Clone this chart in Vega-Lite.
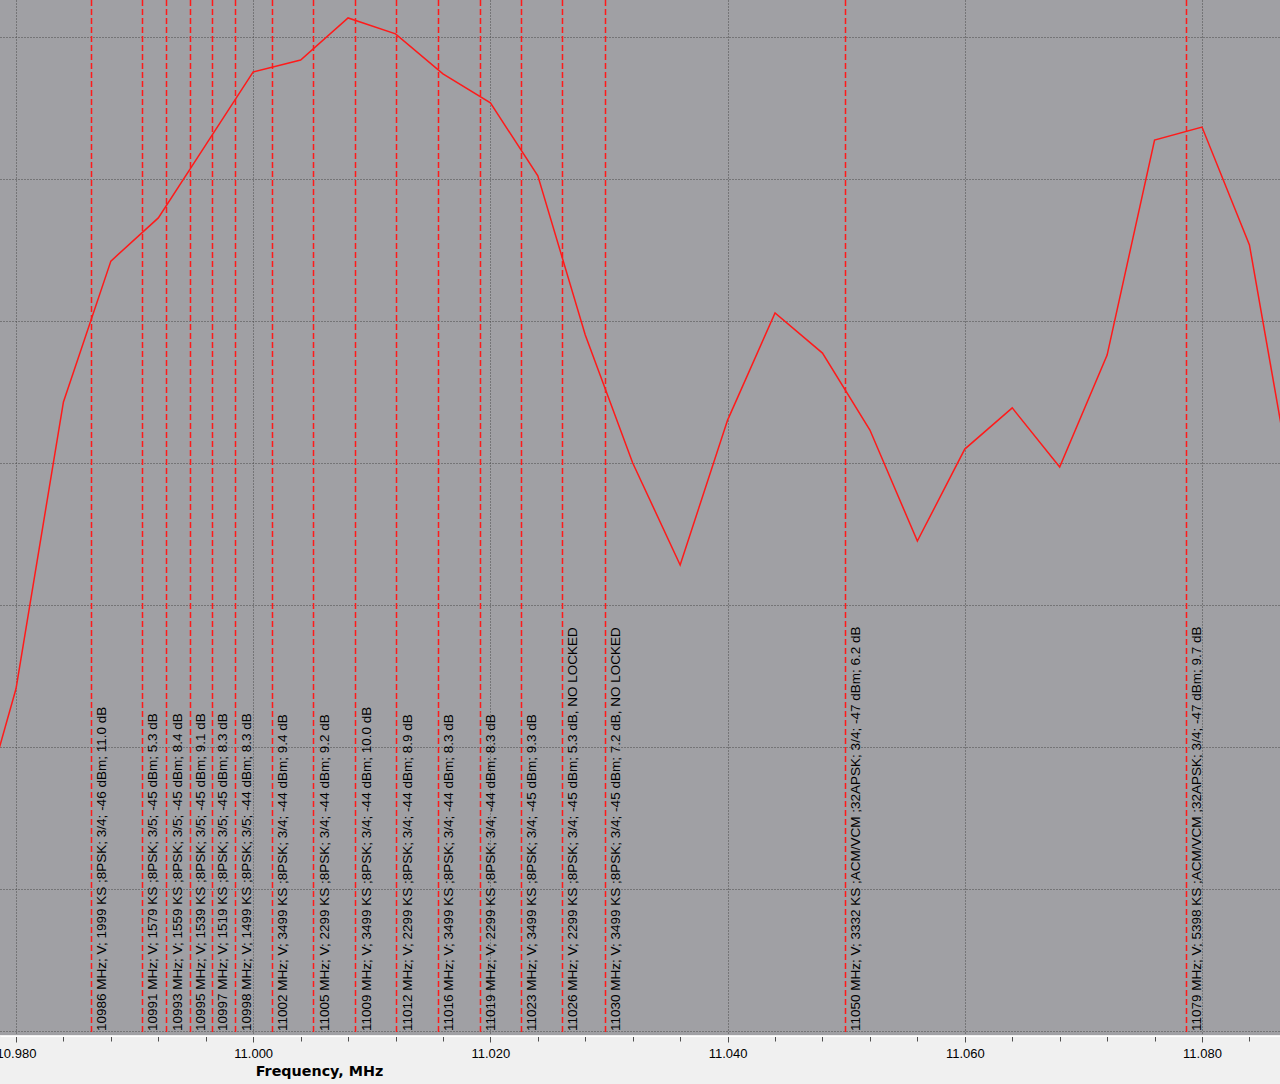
{
  "$schema": "https://vega.github.io/schema/vega-lite/v6.json",
  "width": 1280,
  "height": 1035,
  "autosize": {"type": "none"},
  "padding": {"left": 0, "top": 0, "right": 0, "bottom": 49},
  "background": "#f0f0f0",
  "config": {"view": {"fill": "#a0a0a4", "stroke": null}},
  "datasets": {
    "spectrum": [
      {"freq": 10.976, "level": -68.87},
      {"freq": 10.980, "level": -62.95},
      {"freq": 10.984, "level": -52.85},
      {"freq": 10.988, "level": -47.89},
      {"freq": 10.992, "level": -46.37},
      {"freq": 10.996, "level": -43.80},
      {"freq": 11.000, "level": -41.23},
      {"freq": 11.004, "level": -40.81},
      {"freq": 11.008, "level": -39.33},
      {"freq": 11.012, "level": -39.89},
      {"freq": 11.016, "level": -41.30},
      {"freq": 11.020, "level": -42.32},
      {"freq": 11.024, "level": -44.89},
      {"freq": 11.028, "level": -50.49},
      {"freq": 11.032, "level": -55.00},
      {"freq": 11.036, "level": -58.59},
      {"freq": 11.040, "level": -53.49},
      {"freq": 11.044, "level": -49.72},
      {"freq": 11.048, "level": -51.13},
      {"freq": 11.052, "level": -53.84},
      {"freq": 11.056, "level": -57.75},
      {"freq": 11.060, "level": -54.51},
      {"freq": 11.064, "level": -53.06},
      {"freq": 11.068, "level": -55.14},
      {"freq": 11.072, "level": -51.20},
      {"freq": 11.076, "level": -43.63},
      {"freq": 11.080, "level": -43.17},
      {"freq": 11.084, "level": -47.32},
      {"freq": 11.088, "level": -56.83}
    ],
    "carriers": [
      {"freq": 10.986366, "label": "10986 MHz; V; 1999 KS ;8PSK; 3/4; -46 dBm; 11.0 dB"},
      {"freq": 10.990666, "label": "10991 MHz; V; 1579 KS ;8PSK; 3/5; -45 dBm; 5.3 dB"},
      {"freq": 10.992690, "label": "10993 MHz; V; 1559 KS ;8PSK; 3/5; -45 dBm; 8.4 dB"},
      {"freq": 10.994713, "label": "10995 MHz; V; 1539 KS ;8PSK; 3/5; -45 dBm; 9.1 dB"},
      {"freq": 10.996568, "label": "10997 MHz; V; 1519 KS ;8PSK; 3/5; -45 dBm; 8.3 dB"},
      {"freq": 10.998508, "label": "10998 MHz; V; 1499 KS ;8PSK; 3/5; -44 dBm; 8.3 dB"},
      {"freq": 11.001627, "label": "11002 MHz; V; 3499 KS ;8PSK; 3/4; -44 dBm; 9.4 dB"},
      {"freq": 11.005085, "label": "11005 MHz; V; 2299 KS ;8PSK; 3/4; -44 dBm; 9.2 dB"},
      {"freq": 11.008626, "label": "11009 MHz; V; 3499 KS ;8PSK; 3/4; -44 dBm; 10.0 dB"},
      {"freq": 11.012083, "label": "11012 MHz; V; 2299 KS ;8PSK; 3/4; -44 dBm; 8.9 dB"},
      {"freq": 11.015624, "label": "11016 MHz; V; 3499 KS ;8PSK; 3/4; -44 dBm; 8.3 dB"},
      {"freq": 11.019165, "label": "11019 MHz; V; 2299 KS ;8PSK; 3/4; -44 dBm; 8.3 dB"},
      {"freq": 11.022622, "label": "11023 MHz; V; 3499 KS ;8PSK; 3/4; -45 dBm; 9.3 dB"},
      {"freq": 11.026079, "label": "11026 MHz; V; 2299 KS ;8PSK; 3/4; -45 dBm; 5.3 dB, NO LOCKED"},
      {"freq": 11.029705, "label": "11030 MHz; V; 3499 KS ;8PSK; 3/4; -45 dBm; 7.2 dB, NO LOCKED"},
      {"freq": 11.049941, "label": "11050 MHz; V; 3332 KS ;ACM/VCM ;32APSK; 3/4; -47 dBm; 6.2 dB"},
      {"freq": 11.078693, "label": "11079 MHz; V; 5398 KS ;ACM/VCM ;32APSK; 3/4; -47 dBm; 9.7 dB"}
    ]
  },
  "layer": [
    {
      "data": {"name": "spectrum"},
      "mark": {"type": "line", "color": "#ff1a1a", "strokeWidth": 1.5, "clip": true},
      "encoding": {
        "x": {
          "field": "freq",
          "type": "quantitative",
          "scale": {"domain": [10.978651, 11.086577], "nice": false, "zero": false},
          "title": "Frequency, MHz",
          "axis": {
            "values": [10.98, 10.982, 10.984, 10.986, 10.988, 10.99, 10.992, 10.994, 10.996, 10.998, 11, 11.002, 11.004, 11.006, 11.008, 11.01, 11.012, 11.014, 11.016, 11.018, 11.02, 11.022, 11.024, 11.026, 11.028, 11.03, 11.032, 11.034, 11.036, 11.038, 11.04, 11.042, 11.044, 11.046, 11.048, 11.05, 11.052, 11.054, 11.056, 11.058, 11.06, 11.062, 11.064, 11.066, 11.068, 11.07, 11.072, 11.074, 11.076, 11.078, 11.08, 11.082, 11.084, 11.086],
            "labelExpr": "abs(datum.value*50 - round(datum.value*50)) < 0.001 ? format(datum.value, '.3f') : ''",
            "labelFlush": false,
            "labelOverlap": false,
            "labelBound": false,
            "labelFont": "Liberation Sans",
            "labelFontSize": 13,
            "labelColor": "#000000",
            "labelPadding": 5.5,
            "tickColor": "#505050",
            "tickSize": {"condition": {"test": "abs(datum.value*50 - round(datum.value*50)) < 0.001", "value": 6}, "value": 5},
            "domainColor": "#ffffff",
            "domainWidth": 1,
            "offset": 1,
            "grid": true,
            "gridColor": "#4a4a4a",
            "gridDash": [1, 2],
            "gridOpacity": {"condition": {"test": "abs(datum.value*50 - round(datum.value*50)) < 0.001", "value": 1}, "value": 0},
            "titleFont": "DejaVu Sans",
            "titleFontWeight": "bold",
            "titleFontSize": 14.3,
            "titleColor": "#000000",
            "titleX": 319,
            "titleY": 39.5,
            "titleAlign": "center",
            "titleBaseline": "alphabetic"
          }
        },
        "y": {
          "field": "level",
          "type": "quantitative",
          "scale": {"domain": [-75.1408, -38.6972], "nice": false, "zero": false},
          "axis": {
            "values": [-40, -45, -50, -55, -60, -65, -70, -75],
            "labels": false,
            "ticks": false,
            "domain": false,
            "title": null,
            "grid": true,
            "gridColor": "#4a4a4a",
            "gridDash": [1, 2]
          }
        }
      }
    },
    {
      "data": {"name": "carriers"},
      "mark": {"type": "rule", "color": "#ff1a1a", "strokeDash": [6, 3], "strokeWidth": 1.5},
      "encoding": {"x": {"field": "freq", "type": "quantitative"}}
    },
    {
      "data": {"name": "carriers"},
      "mark": {"type": "text", "angle": 270, "align": "left", "baseline": "top", "dy": 4, "font": "Liberation Sans", "fontSize": 13.5, "color": "#000000"},
      "encoding": {
        "x": {"field": "freq", "type": "quantitative"},
        "y": {"datum": -75.0},
        "text": {"field": "label"}
      }
    }
  ]
}
